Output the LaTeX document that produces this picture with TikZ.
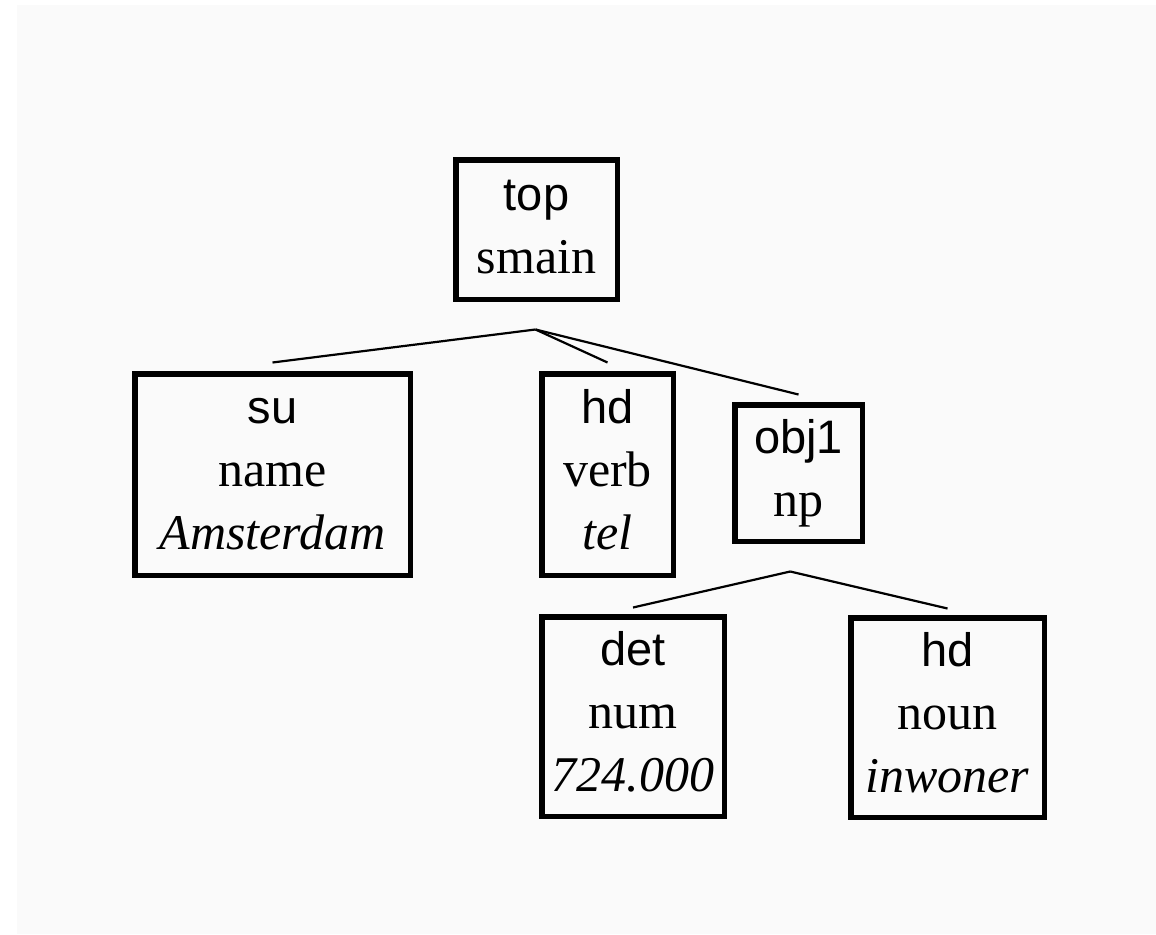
\documentclass[tikz,border=0pt]{standalone}
\usepackage{fontspec}
\setmainfont{Liberation Serif}
\newfontfamily\labfont{Liberation Sans}
\usetikzlibrary{calc}
\definecolor{bggray}{HTML}{FAFAFA}
\newcommand{\lstrut}{\rule[-12pt]{0pt}{48pt}}
\newcommand{\lab}[1]{{\labfont\fontsize{47}{63}\selectfont\lstrut #1}}
\newcommand{\cat}[1]{\lstrut #1}
\newcommand{\wrd}[1]{\lstrut\textit{#1}}
\tikzset{
  treebox/.style={draw=black, line width=5.5pt, fill=bggray, inner sep=0pt,
    align=center, font=\fontsize{50}{63}\selectfont},
  branch/.style={draw=black, line width=2.2pt}
}
\begin{document}
\begin{tikzpicture}[x=1pt, y=-1pt]
\fill[white] (0,0) rectangle (1156,934);
\fill[bggray] (17,5) rectangle (1156,934);
\useasboundingbox (0,0) rectangle (1156,934);

\node[treebox, minimum width=161.5pt, minimum height=139.5pt] (ntop) at (536.5,229.5) {\lab{top}\\\cat{smain}};
\node[treebox, minimum width=275.5pt, minimum height=201.5pt] (nsu) at (272.5,474.5) {\lab{su}\\\cat{name}\\\wrd{Amsterdam}};
\node[treebox, minimum width=131.5pt, minimum height=201.5pt] (nhdv) at (607.5,474.5) {\lab{hd}\\\cat{verb}\\\wrd{tel}};
\node[treebox, minimum width=127.5pt, minimum height=136.5pt] (nobj) at (798.5,473) {\lab{obj1}\\\cat{np}};
\node[treebox, minimum width=182.5pt, minimum height=199.5pt] (ndet) at (633,716.5) {\lab{det}\\\cat{num}\\\wrd{724.000}};
\node[treebox, minimum width=193.5pt, minimum height=199.5pt] (nhdn) at (947.5,717.5) {\lab{hd}\\\cat{noun}\\\wrd{inwoner}};

% joints
\coordinate (m1) at ($(nsu.north)!0.5!(nobj.north)$);
\coordinate (m1b) at (m1 |- ntop.south);
\coordinate (jtop) at ($(m1b)+(0pt,-27.5pt)$);
\coordinate (m2) at ($(ndet.north)!0.5!(nhdn.north)$);
\coordinate (m2b) at (m2 |- nobj.south);
\coordinate (jobj) at ($(m2b)+(0pt,-27.5pt)$);

\draw[branch] (jtop) -- ($(nsu.north)+(0pt,8.5pt)$);
\draw[branch] (jtop) -- ($(nhdv.north)+(0pt,8.5pt)$);
\draw[branch] (jtop) -- ($(nobj.north)+(0pt,7.5pt)$);
\draw[branch] (jobj) -- ($(ndet.north)+(0pt,6.5pt)$);
\draw[branch] (jobj) -- ($(nhdn.north)+(0pt,6.5pt)$);
\end{tikzpicture}
\end{document}
